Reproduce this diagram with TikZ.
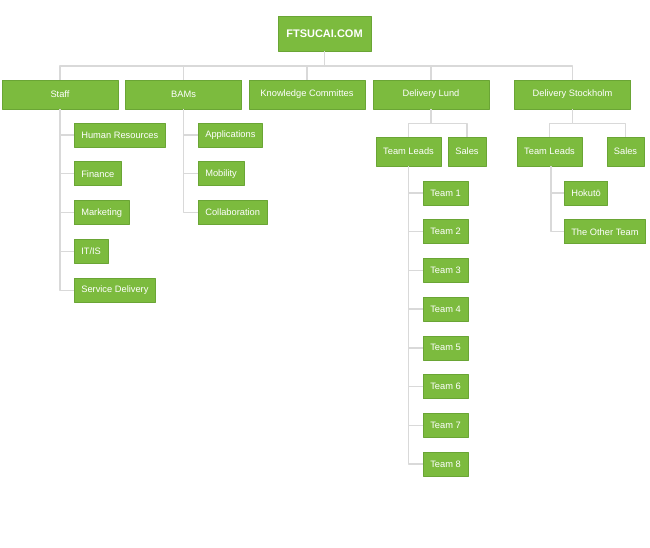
\documentclass[tikz,border=0pt]{standalone}
\usepackage{fontspec}
\setmainfont{Liberation Sans}
\definecolor{leaf}{HTML}{7CBB3E}
\definecolor{leafdark}{HTML}{6AA535}
\definecolor{wire}{HTML}{D9D9D9}
\begin{document}
\begin{tikzpicture}[x=1pt,y=-1pt,font=\fontsize{9.3}{11}\selectfont,line join=round]
\tikzset{box/.style={fill=leaf,draw=leafdark,line width=0.6pt,text=white,inner xsep=7pt,minimum height=24pt},
  head/.style={box,minimum width=116pt,minimum height=29pt},
  sub/.style={box,minimum height=29pt},
  link/.style={draw=wire,line width=1.4pt}}
\useasboundingbox (0,0) rectangle (650,548);
\node[box,minimum width=93pt,minimum height=35pt,font=\fontsize{11}{13}\selectfont\bfseries] (root) at (324.5,33.5) {FTSUCAI.COM};
\node[head] (staff) at (60,94.5) {Staff};
\node[head] (bams) at (183.5,94.5) {BAMs};
\node[head] (know) at (307,94.5) {Knowledge Committes};
\node[head] (lund) at (431,94.5) {Delivery Lund};
\node[head] (sthlm) at (572.5,94.5) {Delivery Stockholm};
\foreach \n/\t [count=\i] in {hr/Human Resources,fin/Finance,mkt/Marketing,it/{IT/IS},sd/Service Delivery}
  \node[box,anchor=west] (\n) at (74,{135+38.8*(\i-1)}) {\t};
\foreach \n/\t [count=\i] in {app/Applications,mob/Mobility,col/Collaboration}
  \node[box,anchor=west] (\n) at (198,{135+38.8*(\i-1)}) {\t};
\node[sub,minimum width=65pt] (leadsL) at (408.5,151.5) {Team Leads};
\node[sub,minimum width=38pt,inner xsep=4pt] (salesL) at (467,151.5) {Sales};
\node[sub,minimum width=65pt] (leadsS) at (549.5,151.5) {Team Leads};
\node[sub,minimum width=37pt,inner xsep=4pt] (salesS) at (625.5,151.5) {Sales};
\foreach \k in {1,...,8}
  \node[box,anchor=west] (team\k) at (423,{193+38.7*(\k-1)}) {Team \k};
\node[box,anchor=west] (hok) at (564,193) {Hokutō};
\node[box,anchor=west] (other) at (564,231.7) {The Other Team};
\coordinate (bus) at (324.5,66);
\draw[link] (root.south) -- (bus);
\foreach \n in {staff,bams,know,lund,sthlm}
  \draw[link] (bus) -| (\n.north);
\foreach \n in {hr,fin,mkt,it,sd}
  \draw[link] (staff.south) |- (\n.west);
\foreach \n in {app,mob,col}
  \draw[link] (bams.south) |- (\n.west);
\draw[link] (lund.south) -- ++(0,14) coordinate (forkL) -| (leadsL.north);
\draw[link] (forkL) -| (salesL.north);
\draw[link] (sthlm.south) -- ++(0,14) coordinate (forkS) -| (leadsS.north);
\draw[link] (forkS) -| (salesS.north);
\foreach \k in {1,...,8}
  \draw[link] (leadsL.south) |- (team\k.west);
\foreach \n in {hok,other}
  \draw[link] ([xshift=1.5pt]leadsS.south) |- (\n.west);
\end{tikzpicture}
\end{document}
